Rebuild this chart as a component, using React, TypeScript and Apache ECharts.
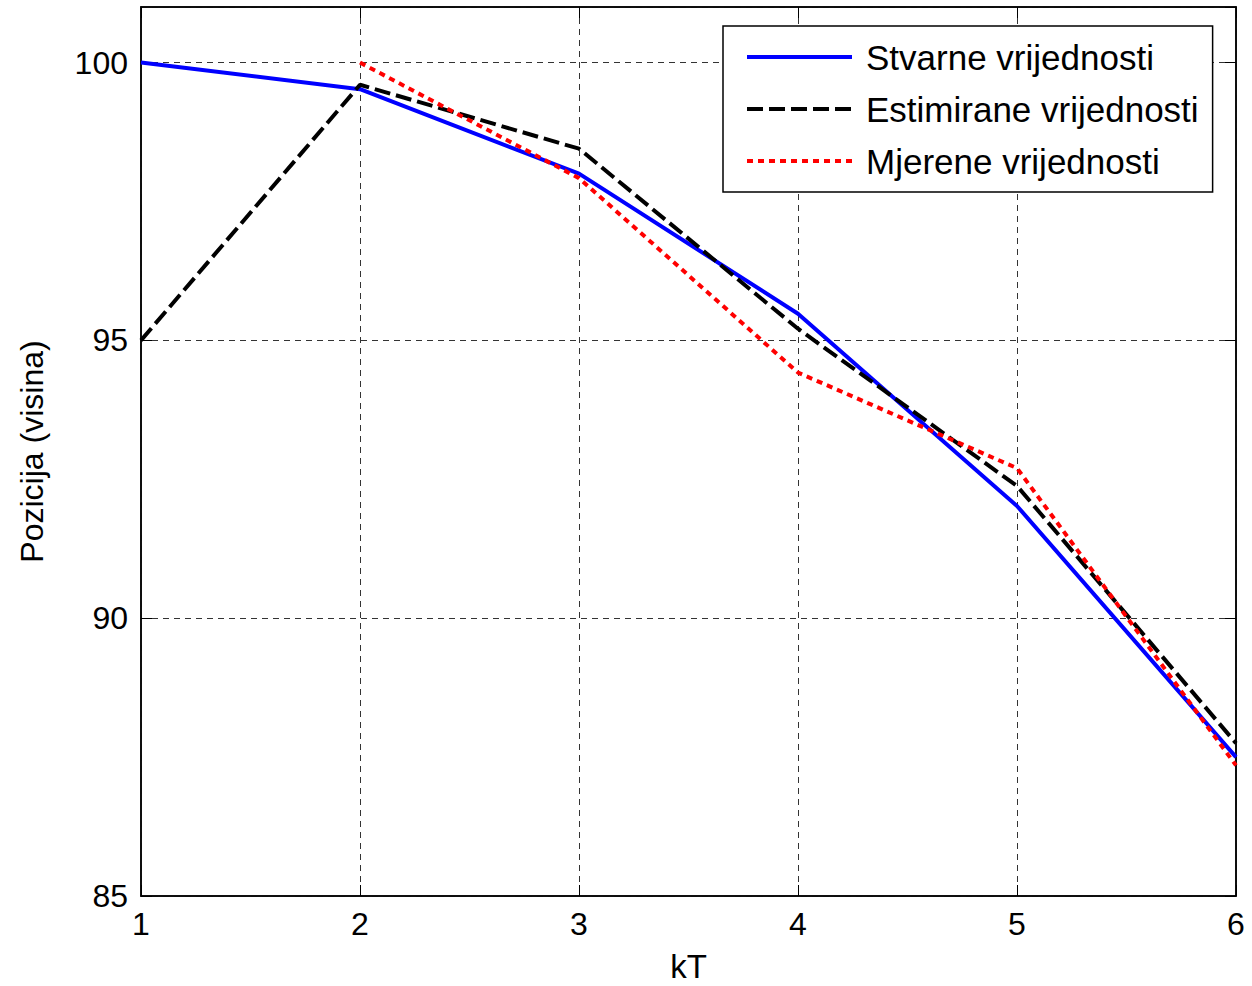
import React, { useEffect, useRef } from 'react';
import * as echarts from 'echarts';

const kT = [1, 2, 3, 4, 5, 6];
const stvarne = [100, 99.52, 98.0, 95.48, 92.02, 87.5];
const estimirane = [95, 99.6, 98.45, 95.21, 92.38, 87.75];
const mjereneKT = [2, 3, 4, 5, 6];
const mjerene = [100, 97.92, 94.42, 92.7, 87.35];

const seriesNames = ['Stvarne vrijednosti', 'Estimirane vrijednosti', 'Mjerene vrijednosti'];
const xTitle = 'kT';
const yTitle = 'Pozicija (visina)';

const FONT = "'Liberation Sans', Arial, sans-serif";

export default function App() {
  const ref = useRef<HTMLDivElement>(null);
  useEffect(() => {
    if (!ref.current) return;
    const chart = echarts.init(ref.current, undefined, { renderer: 'svg' });
    const pairs = (xs: number[], ys: number[]) => xs.map((x, i) => [x, ys[i]]);
    const gridDash = { color: '#333', width: 1, type: [6, 5] as number[] };
    chart.setOption({
      animation: false,
      backgroundColor: '#fff',
      textStyle: { fontFamily: FONT },
      grid: { left: 141, top: 7, right: 16, bottom: 90, outerBoundsMode: 'none', containLabel: false, show: true, borderColor: '#000', borderWidth: 1.5, backgroundColor: 'transparent' },
      legend: {
        orient: 'vertical',
        left: 723,
        top: 26,
        padding: [12, 14, 12, 22],
        itemGap: 14,
        itemWidth: 105,
        itemHeight: 14,
        borderColor: '#000',
        borderWidth: 1.5,
        backgroundColor: '#fff',
        itemStyle: { opacity: 0 },
        lineStyle: { width: 4 },
        data: seriesNames,
        textStyle: { fontSize: 35, color: '#000', fontFamily: FONT, lineHeight: 38, padding: [0, 0, 0, 9] },
      },
      xAxis: [
        {
          type: 'value', min: 1, max: 6, interval: 1,
          name: xTitle, nameLocation: 'middle', nameGap: 54,
          nameTextStyle: { fontSize: 33, color: '#000', fontFamily: FONT },
          axisLine: { show: true, lineStyle: { color: '#000', width: 1.5 } },
          axisTick: { show: true, inside: true, length: 11, lineStyle: { color: '#000' } },
          axisLabel: { fontSize: 32, color: '#000', margin: 12, fontFamily: FONT },
          splitLine: { show: true, lineStyle: gridDash },
        },
        {
          type: 'value', min: 1, max: 6, interval: 1, position: 'top',
          axisLine: { show: true, lineStyle: { color: '#000', width: 1.5 } },
          axisTick: { show: true, inside: true, length: 11, lineStyle: { color: '#000' } },
          axisLabel: { show: false },
          splitLine: { show: false },
        },
      ],
      yAxis: [
        {
          type: 'value', min: 85, max: 101, interval: 5,
          name: yTitle, nameLocation: 'middle', nameGap: 93,
          nameTextStyle: { fontSize: 32, color: '#000', fontFamily: FONT },
          axisLine: { show: true, lineStyle: { color: '#000', width: 1.5 } },
          axisTick: { show: true, inside: true, length: 11, lineStyle: { color: '#000' } },
          axisLabel: { fontSize: 32, color: '#000', margin: 13, showMaxLabel: false, fontFamily: FONT },
          splitLine: { show: true, lineStyle: gridDash },
        },
        {
          type: 'value', min: 85, max: 101, interval: 5, position: 'right',
          axisLine: { show: true, lineStyle: { color: '#000', width: 1.5 } },
          axisTick: { show: true, inside: true, length: 11, lineStyle: { color: '#000' } },
          axisLabel: { show: false },
          splitLine: { show: false },
        },
      ],
      series: [
        {
          name: seriesNames[0], type: 'line', symbol: 'none', z: 3,
          data: pairs(kT, stvarne),
          lineStyle: { color: '#0000ff', width: 4, type: 'solid' },
          itemStyle: { color: '#0000ff' },
        },
        {
          name: seriesNames[1], type: 'line', symbol: 'none', z: 4,
          data: pairs(kT, estimirane),
          lineStyle: { color: '#000000', width: 4, type: [16, 6] },
          itemStyle: { color: '#000000' },
        },
        {
          name: seriesNames[2], type: 'line', symbol: 'none', z: 5,
          data: pairs(mjereneKT, mjerene),
          lineStyle: { color: '#ff0000', width: 4, type: [6, 5] },
          itemStyle: { color: '#ff0000' },
        },
      ],
    });
    return () => chart.dispose();
  }, []);
  return <div ref={ref} style={{ position: 'fixed', left: 0, top: 0, width: 1252, height: 986 }} />;
}
